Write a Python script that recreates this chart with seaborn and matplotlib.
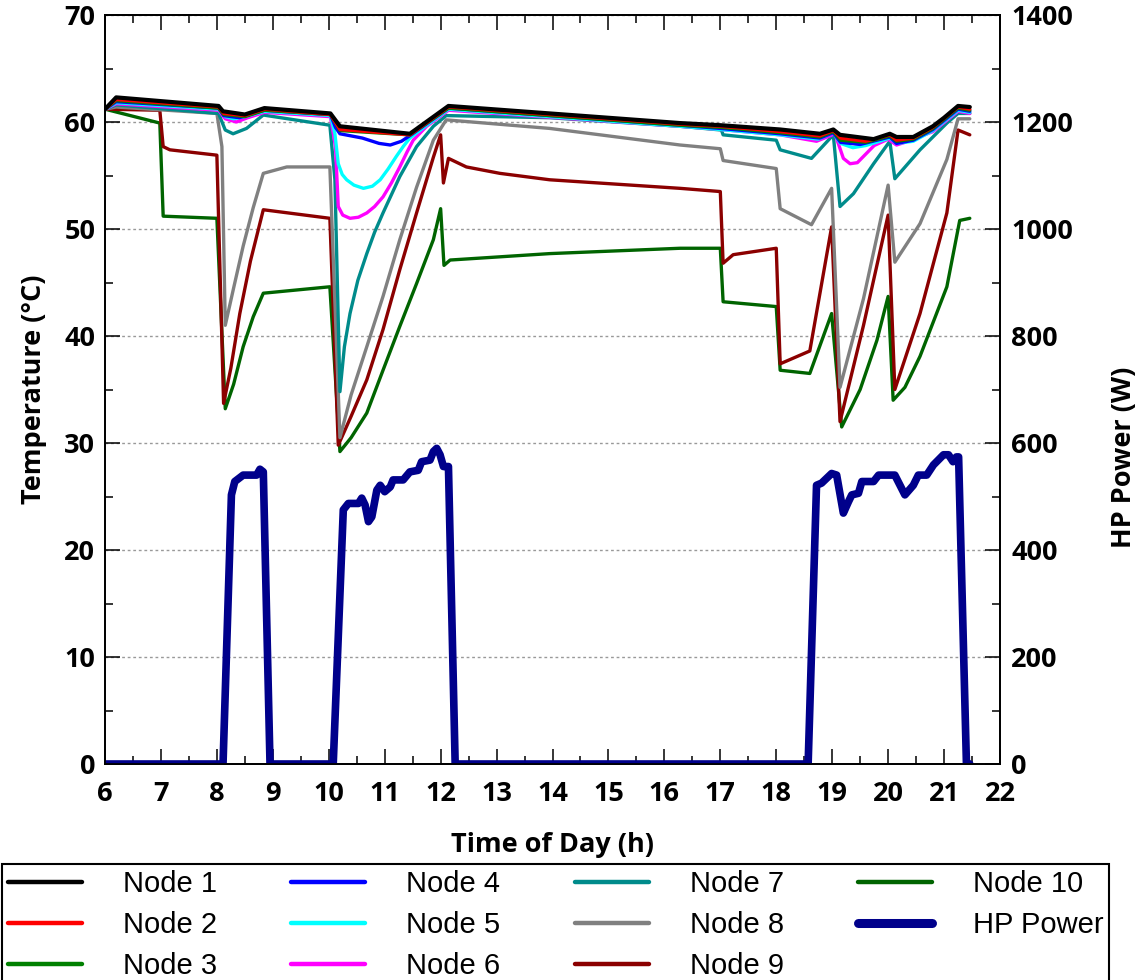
import matplotlib
matplotlib.use("Agg")
import matplotlib.pyplot as plt
from matplotlib.lines import Line2D
from matplotlib.ticker import MultipleLocator
import seaborn as sns

# tank node temperatures (time of day in h, temperature in degC)
t_node1 = [6.0, 6.2, 8.03, 8.11, 8.5, 8.85, 10.03, 10.2, 11.45, 12.14, 16.28, 17.0, 18.07, 18.78,
           19.02, 19.14, 19.74, 20.03, 20.15, 20.45, 20.8, 21.0, 21.25, 21.46]
T_node1 = [61.2, 62.3, 61.5, 61.0, 60.7, 61.3, 60.8, 59.6, 58.9, 61.5, 59.9, 59.7, 59.3, 58.9,
           59.3, 58.8, 58.4, 58.9, 58.6, 58.6, 59.6, 60.4, 61.5, 61.4]

t_node2 = [6.0, 6.2, 8.03, 8.12, 8.5, 8.85, 10.03, 10.2, 11.45, 12.14, 16.28, 17.0, 18.07, 18.78,
           19.02, 19.15, 19.6, 20.03, 20.15, 20.45, 20.8, 21.25, 21.46]
T_node2 = [61.2, 62.1, 61.4, 60.8, 60.6, 61.2, 60.7, 59.3, 58.8, 61.4, 59.8, 59.6, 59.1, 58.7,
           59.2, 58.5, 58.2, 58.8, 58.3, 58.5, 59.5, 61.4, 61.2]

t_node3 = [6.0, 6.2, 8.03, 8.12, 8.5, 8.85, 10.03, 10.2, 11.45, 12.14, 16.28, 17.0, 18.07, 18.78,
           19.02, 19.15, 19.6, 20.03, 20.15, 20.45, 20.8, 21.25, 21.46]
T_node3 = [61.2, 62.0, 61.3, 60.7, 60.5, 61.1, 60.7, 59.2, 58.8, 61.3, 59.7, 59.5, 59.0, 58.6,
           59.1, 58.3, 58.1, 58.7, 58.2, 58.4, 59.4, 61.3, 61.1]

t_node4 = [6.0, 6.2, 8.03, 8.12, 8.4, 8.85, 10.03, 10.12, 10.2, 10.6, 10.9, 11.1, 11.3, 11.5,
           12.14, 16.28, 17.0, 18.07, 18.78, 19.02, 19.15, 19.5, 20.03, 20.15, 20.45, 20.8,
           21.25, 21.46]
T_node4 = [61.2, 61.9, 61.3, 60.6, 60.4, 61.1, 60.7, 59.5, 58.9, 58.5, 58.0, 57.85, 58.2, 58.9,
           61.3, 59.7, 59.4, 58.9, 58.5, 59.0, 58.1, 57.9, 58.6, 58.0, 58.3, 59.3,
           61.2, 61.0]

t_node5 = [6.0, 6.2, 8.03, 8.15, 8.3, 8.5, 8.85, 10.03, 10.11, 10.17, 10.24, 10.32, 10.45, 10.62,
           10.78, 10.92, 11.06, 11.21, 11.33, 11.45, 11.7, 12.14, 16.28, 17.0, 18.07, 18.75,
           19.02, 19.15, 19.37, 19.6, 20.03, 20.15, 20.45, 20.8, 21.25, 21.46]
T_node5 = [61.2, 61.8, 61.2, 60.5, 60.3, 60.5, 61.0, 60.6, 58.9, 56.1, 55.1, 54.6, 54.1, 53.8,
           54.0, 54.6, 55.6, 56.8, 57.7, 58.5, 59.5, 61.2, 59.6, 59.3, 58.8, 58.4,
           59.0, 58.0, 57.6, 57.8, 58.5, 58.0, 58.2, 59.2, 61.1, 60.9]

t_node6 = [6.0, 6.2, 8.03, 8.15, 8.35, 8.55, 8.85, 10.03, 10.12, 10.17, 10.25, 10.38, 10.53,
           10.68, 10.82, 10.97, 11.12, 11.27, 11.4, 11.51, 11.75, 12.14, 16.28, 17.0, 18.07,
           18.72, 19.05, 19.2, 19.32, 19.45, 19.75, 20.0, 20.15, 20.3, 20.8, 21.25, 21.46]
T_node6 = [61.2, 61.7, 61.1, 60.3, 60.0, 60.4, 60.9, 60.5, 57.7, 52.1, 51.3, 51.0, 51.1,
           51.5, 52.1, 53.0, 54.3, 55.8, 57.2, 58.3, 59.6, 61.1, 59.6, 59.3, 58.8,
           58.2, 58.9, 56.6, 56.1, 56.2, 57.8, 58.4, 57.85, 58.1, 59.1, 61.0, 60.8]

t_node7 = [6.0, 6.2, 8.03, 8.15, 8.29, 8.53, 8.83, 10.02, 10.11, 10.2, 10.28, 10.38, 10.52,
           10.68, 10.82, 10.97, 11.27, 11.57, 11.87, 12.1, 13.95, 16.28, 17.02, 17.05, 18.0,
           18.07, 18.63, 19.02, 19.14, 19.38, 19.74, 20.03, 20.12, 20.57, 21.05, 21.25, 21.46]
T_node7 = [61.2, 61.6, 60.8, 59.25, 58.9, 59.4, 60.65, 59.7, 54.6, 34.8, 39.0, 42.1, 45.2,
           47.7, 49.7, 51.5, 54.9, 57.7, 59.6, 60.6, 60.4, 59.6, 59.25, 58.8, 58.3,
           57.4, 56.6, 58.8, 52.1, 53.3, 56.1, 58.2, 54.7, 57.4, 59.9, 60.8, 60.8]

t_node8 = [6.0, 6.2, 8.0, 8.09, 8.15, 8.3, 8.47, 8.65, 8.83, 9.25, 10.02, 10.2, 10.4, 10.68,
           10.97, 11.27, 11.57, 11.87, 12.1, 13.95, 16.28, 17.0, 17.05, 18.0, 18.07, 18.63,
           18.99, 19.14, 19.56, 20.0, 20.12, 20.57, 21.05, 21.25, 21.46]
T_node8 = [61.2, 61.4, 60.8, 57.7, 41.0, 44.5, 48.4, 52.0, 55.2, 55.8, 55.8, 30.5, 34.5, 39.0,
           43.7, 49.0, 53.9, 58.3, 60.2, 59.4, 57.85, 57.5, 56.4, 55.65, 51.9, 50.4,
           53.8, 35.2, 43.5, 54.1, 46.9, 50.5, 56.5, 60.3, 60.3]

t_node9 = [6.0, 6.98, 7.04, 7.16, 8.0, 8.12, 8.25, 8.41, 8.6, 8.83, 10.02, 10.17, 10.4, 10.68,
           10.97, 11.27, 11.57, 11.87, 12.0, 12.05, 12.14, 12.46, 13.06, 13.95, 16.28, 17.0,
           17.05, 17.23, 18.0, 18.07, 18.6, 18.99, 19.14, 19.56, 20.0, 20.12, 20.57, 21.05,
           21.25, 21.46]
T_node9 = [61.2, 61.1, 57.7, 57.4, 56.9, 33.7, 37.0, 42.1, 47.0, 51.8, 51.0, 29.8, 32.5, 35.9,
           40.6, 46.2, 51.5, 56.7, 58.8, 54.3, 56.6, 55.8, 55.2, 54.6, 53.8, 53.5,
           46.8, 47.6, 48.2, 37.4, 38.6, 50.2, 32.0, 41.0, 51.3, 35.0, 42.1, 51.5,
           59.25, 58.8]

t_node10 = [6.0, 6.98, 7.04, 8.0, 8.15, 8.3, 8.47, 8.65, 8.83, 10.02, 10.2, 10.4, 10.68, 10.97,
            11.27, 11.57, 11.87, 12.0, 12.06, 12.17, 13.95, 16.28, 17.0, 17.05, 18.0, 18.07,
            18.6, 18.99, 19.17, 19.5, 19.8, 20.0, 20.09, 20.3, 20.57, 21.05, 21.28, 21.46]
T_node10 = [61.2, 59.9, 51.2, 51.0, 33.2, 35.5, 39.0, 41.8, 44.0, 44.6, 29.2, 30.5, 32.8, 36.8,
            40.9, 44.9, 49.0, 51.9, 46.6, 47.1, 47.7, 48.2, 48.2, 43.2, 42.75, 36.8,
            36.5, 42.1, 31.5, 35.0, 39.6, 43.7, 34.0, 35.2, 38.1, 44.6, 50.8, 51.0]

# heat pump electric power (W)
t_hp = [6.0, 8.11, 8.26, 8.32, 8.47, 8.71, 8.77, 8.83, 8.95, 10.08, 10.26, 10.35, 10.53, 10.59,
        10.65, 10.71, 10.77, 10.86, 10.92, 11.0, 11.1, 11.15, 11.33, 11.45, 11.6, 11.66, 11.81,
        11.87, 11.93, 11.99, 12.05, 12.14, 12.26, 18.57, 18.72, 18.81, 18.99, 19.08, 19.2,
        19.29, 19.35, 19.47, 19.53, 19.74, 19.83, 20.12, 20.3, 20.45, 20.54, 20.69, 20.81,
        20.99, 21.08, 21.16, 21.22, 21.26, 21.4, 21.46]
P_hp = [0, 0, 503, 528, 540, 540, 551, 546, 0, 0, 475, 487, 487, 497,
        484, 453, 462, 512, 521, 509, 518, 531, 531, 546, 549, 565, 568,
        584, 590, 578, 556, 556, 0, 0, 521, 525, 543, 540, 469,
        490, 503, 506, 528, 528, 540, 540, 503, 521, 540, 540, 559,
        578, 578, 565, 574, 574, 0, 0]

node_labels = ["Node 1", "Node 2", "Node 3", "Node 4", "Node 5",
               "Node 6", "Node 7", "Node 8", "Node 9", "Node 10"]
node_colors = ["black", "red", "green", "blue", "cyan",
               "magenta", "#008B8B", "gray", "#8B0000", "#006400"]
node_t = [t_node1, t_node2, t_node3, t_node4, t_node5, t_node6, t_node7, t_node8, t_node9, t_node10]
node_T = [T_node1, T_node2, T_node3, T_node4, T_node5, T_node6, T_node7, T_node8, T_node9, T_node10]
hp_color = "#00008B"

sns.set_theme(style="white")
plt.rcParams["font.family"] = ["Open Sans", "DejaVu Sans"]
plt.rcParams["text.color"] = "black"
plt.rcParams["axes.labelcolor"] = "black"

fig = plt.figure(figsize=(11.35, 9.8), dpi=100)
ax = fig.add_axes([105 / 1135, 1 - 764 / 980, 895 / 1135, 749 / 980])
ax2 = ax.twinx()

# draw bottom node first so the hot nodes sit on top
for i in reversed(range(10)):
    sns.lineplot(x=node_t[i], y=node_T[i], ax=ax, color=node_colors[i],
                 linewidth=3.0 if i == 0 else 2.4, estimator=None, sort=False, legend=False)

sns.lineplot(x=t_hp, y=P_hp, ax=ax2, color=hp_color, linewidth=5.5,
             estimator=None, sort=False, legend=False)

ax.set_xlim(6, 22)
ax.set_ylim(0, 70)
ax2.set_ylim(0, 1400)
ax.xaxis.set_major_locator(MultipleLocator(1))
ax.xaxis.set_minor_locator(MultipleLocator(0.5))
ax.yaxis.set_major_locator(MultipleLocator(10))
ax.yaxis.set_minor_locator(MultipleLocator(5))
ax2.yaxis.set_major_locator(MultipleLocator(200))
ax2.yaxis.set_minor_locator(MultipleLocator(100))

ax.yaxis.grid(True, which="major", linestyle=(0, (2, 2)), color="#999999", linewidth=1.0)

ax.tick_params(axis="x", which="both", direction="in", top=True, bottom=True, pad=12,
               labelsize=19.5, colors="black", width=1.1)
ax.tick_params(axis="y", which="both", direction="in", left=True, right=False, pad=7,
               labelsize=19.5, colors="black", width=1.1)
ax2.tick_params(axis="y", which="both", direction="in", right=True, left=False, pad=8,
                labelsize=19.5, colors="black", width=1.1)
for a in (ax, ax2):
    a.tick_params(which="major", length=11)
    a.tick_params(which="minor", length=5.5)
for lab in ax.get_xticklabels() + ax.get_yticklabels() + ax2.get_yticklabels():
    lab.set_fontweight("bold")

for a in (ax, ax2):
    for s in a.spines.values():
        s.set_color("black")
        s.set_linewidth(1.3)

ax.set_xlabel("Time of Day (h)", fontsize=19.5, fontweight="bold", labelpad=18)
ax.set_ylabel("Temperature (°C)", fontsize=19.5, fontweight="bold", labelpad=12)
ax2.set_ylabel("HP Power (W)", fontsize=19.5, fontweight="bold", labelpad=20)
ax2.yaxis.set_label_coords(1.124, 0.41)

handles = [Line2D([], [], color=c, linewidth=3.2) for c in node_colors]
handles.append(Line2D([], [], color=hp_color, linewidth=6.5))
labels = node_labels + ["HP Power"]
leg = fig.legend(handles, labels, loc="upper left", bbox_to_anchor=(2 / 1135, 1 - 864 / 980),
                 bbox_transform=fig.transFigure, ncol=4, frameon=True, fancybox=False,
                 edgecolor="black", framealpha=1, borderaxespad=0, borderpad=0.2,
                 handlelength=2.54, handletextpad=1.4, columnspacing=2.55, labelspacing=0.45,
                 prop={"family": ["Liberation Sans", "DejaVu Sans"], "size": 21})
leg.get_frame().set_linewidth(1.5)

fig.savefig("out.png", dpi=100)
